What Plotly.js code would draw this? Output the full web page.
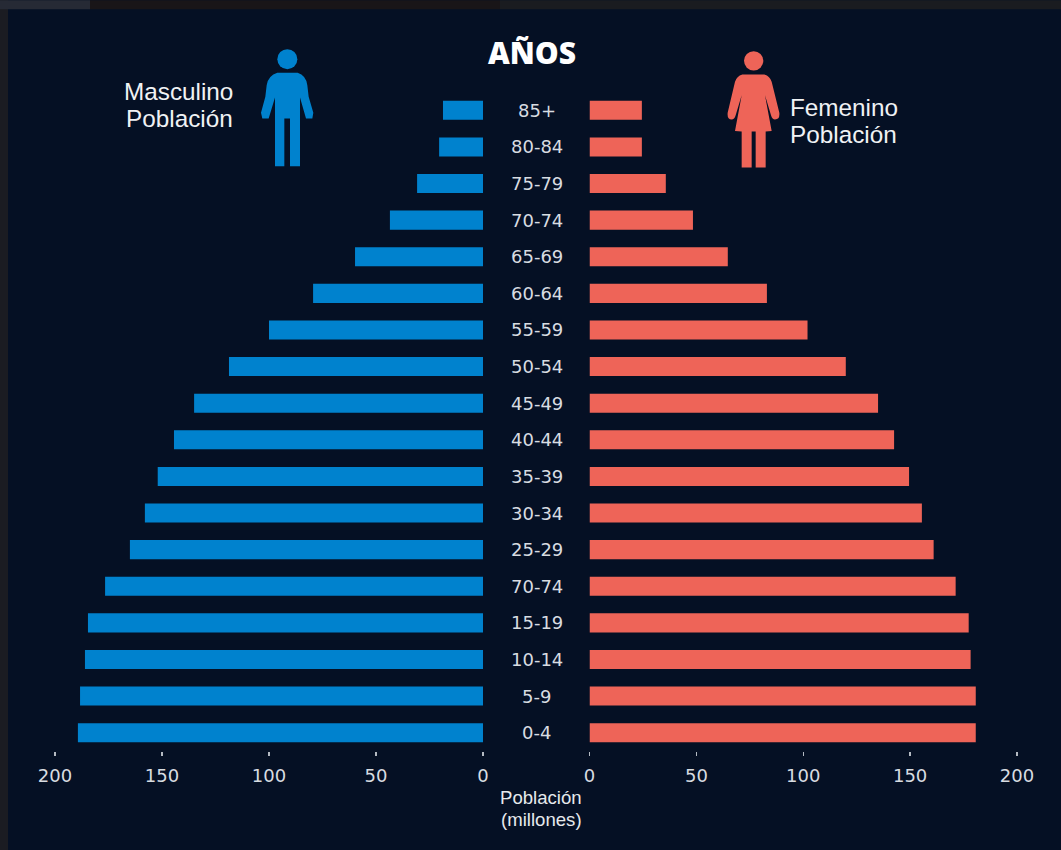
<!DOCTYPE html>
<html>
<head>
<meta charset="utf-8">
<script src="https://cdn.plot.ly/plotly-3.0.1.min.js"></script>
<style>html,body{margin:0;padding:0;background:#051024;overflow:hidden}#chart{width:1061px;height:850px}</style>
</head>
<body>
<div id="chart"></div>
<script>
// Data: ordered from the youngest group (bottom) to the oldest (top)
const ageLabels = ["0-4","5-9","10-14","15-19","70-74","25-29","30-34","35-39","40-44","45-49","50-54","55-59","60-64","65-69","70-74","75-79","80-84","85+"];
const maleValues = [189.3,188.3,186,184.6,176.6,165,158,152,144.4,135,118.7,100,79.4,59.8,43.5,30.8,20.5,18.7];
const femaleValues = [180.7,180.7,178.3,177.4,171.3,161,155.5,149.5,142.5,135,119.9,102,83,64.7,48.4,35.7,24.5,24.5];
const tickValues = [0,50,100,150,200];
const titleText = "AÑOS";
const maleLines = ["Masculino","Población"];
const femaleLines = ["Femenino","Población"];
const unitLines = ["Población","(millones)"];

const BLUE = "#0082CE", RED = "#EE6458", PANEL = "#051024";
const L = 55, R = 1017, T = 91.8, B = 750.6;
const px = x => (x - L) / (R - L);
const py = y => (B - y) / (B - T);
const positions = ageLabels.map((_, i) => i);

const tickFont = {family: "'DejaVu Sans', sans-serif", size: 18, color: "#d8dce1"};
const sideFont = {family: "'Liberation Sans', Arial, sans-serif", size: 24.3, color: "#f0f2f4"};
const unitFont = {family: "'Liberation Sans', Arial, sans-serif", size: 18.6, color: "#e6e9ec"};

const axisBase = {
  range: [0, 200], tickvals: tickValues, ticktext: tickValues.map(String),
  showgrid: false, zeroline: false, showline: false,
  ticks: "outside", ticklen: 4, tickwidth: 1.5, tickcolor: "#b4bac2",
  tickfont: tickFont, ticklabelstandoff: 4, anchor: "y"
};

const traces = [
  {type: "bar", orientation: "h", name: "Masculino", x: maleValues, y: positions, xaxis: "x", yaxis: "y",
   width: 0.52, marker: {color: BLUE}, hoverinfo: "x+text", text: ageLabels, textposition: "none"},
  {type: "bar", orientation: "h", name: "Femenino", x: femaleValues, y: positions, xaxis: "x2", yaxis: "y",
   width: 0.52, marker: {color: RED}, hoverinfo: "x+text", text: ageLabels, textposition: "none"}
];

function icon(paths, color) {
  const svg = `<svg xmlns="http://www.w3.org/2000/svg" viewBox="0 0 225 405" width="75" height="135"><g fill="${color}">${paths}</g></svg>`;
  return "data:image/svg+xml;base64," + btoa(svg);
}
const malePaths = '<circle cx="112" cy="57" r="30"/>' +
  '<path d="M82,98 L143,98 Q168,106 172,135 L176,170 L190,218 L187,235 L168,235 L150,172 L150,378 L120,378 L120,235 L103,235 L103,378 L75,378 L75,172 L56,235 L37,235 L33,218 L46,170 L50,135 Q55,106 82,98 Z"/>';
const femalePaths = '<circle cx="116" cy="62" r="29"/>' +
  '<path d="M82,103 L148,103 Q165,108 170,125 L193,218 Q195,238 180,238 Q172,238 168,225 L150,165 L170,272 L152,274 L152,382 L122,382 L122,274 L110,274 L110,382 L80,382 L80,274 L60,272 L80,165 L62,225 Q58,238 50,238 Q36,238 38,218 L60,125 Q65,108 82,103 Z"/>';

const makeLabel = (text, xp, yp, font, xanchor) => ({
  text, xref: "paper", yref: "paper", x: px(xp), y: py(yp),
  xanchor: xanchor || "center", yanchor: "middle", showarrow: false, font
});

const annotations = [
  ...ageLabels.map((t, i) => ({
    text: t, xref: "paper", yref: "y", x: px(536.5), y: i,
    xanchor: "center", yanchor: "middle", showarrow: false, font: tickFont
  })),
  makeLabel(titleText, 531.5, 52, {family: "'Open Sans', sans-serif", size: 30, weight: 800, color: "#ffffff"}),
  makeLabel(maleLines[0], 235, 91, sideFont, "right"),
  makeLabel(maleLines[1], 235, 118, sideFont, "right"),
  makeLabel(femaleLines[0], 788, 107, sideFont, "left"),
  makeLabel(femaleLines[1], 788, 134, sideFont, "left"),
  makeLabel(unitLines[0], 541, 797.5, unitFont),
  makeLabel(unitLines[1], 541, 819.5, unitFont)
];

const strip = (x0, x1, y0, y1, color) => ({
  type: "rect", xref: "paper", yref: "paper", x0: px(x0), x1: px(x1), y0: py(y0), y1: py(y1),
  fillcolor: color, line: {width: 0}, layer: "below"
});

const layout = {
  width: 1061, height: 850,
  margin: {l: L, r: 1061 - R, t: T, b: 850 - B, pad: 0},
  paper_bgcolor: PANEL, plot_bgcolor: PANEL,
  showlegend: false, bargap: 0.48,
  xaxis: {...axisBase, domain: [0, px(483)], range: [200, 0]},
  xaxis2: {...axisBase, domain: [px(589.5), 1]},
  yaxis: {range: [-0.5, 17.5], visible: false, anchor: "x", fixedrange: true},
  annotations,
  shapes: [
    strip(0, 8, 0, 850, "#1b1c22"),
    strip(0, 90, 0, 9, "#262a35"),
    strip(90, 500, 0, 9, "#191518"),
    strip(500, 1061, 0, 9, "#1a1c20")
  ],
  images: [
    {source: icon(malePaths, BLUE), xref: "paper", yref: "paper", x: px(250), y: py(40), sizex: 75 / (R - L), sizey: 135 / (B - T), xanchor: "left", yanchor: "top", sizing: "stretch", layer: "above"},
    {source: icon(femalePaths, RED), xref: "paper", yref: "paper", x: px(715), y: py(40), sizex: 75 / (R - L), sizey: 135 / (B - T), xanchor: "left", yanchor: "top", sizing: "stretch", layer: "above"}
  ]
};

Plotly.newPlot("chart", traces, layout, {displayModeBar: false, staticPlot: true});
</script>
</body>
</html>
